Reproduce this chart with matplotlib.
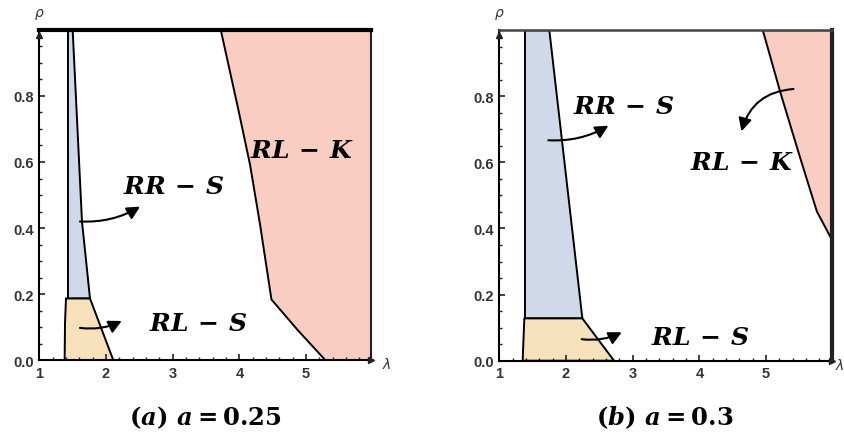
import matplotlib
matplotlib.use("Agg")
import matplotlib.pyplot as plt
from matplotlib.ticker import MultipleLocator, FixedLocator

plt.rcParams['mathtext.fontset'] = 'custom'
plt.rcParams['mathtext.it'] = 'DejaVu Serif:italic:bold'
plt.rcParams['mathtext.rm'] = 'DejaVu Serif:bold'
plt.rcParams['mathtext.bf'] = 'DejaVu Serif:bold'

# ---- data: panel (a) a = 0.25 ----
a_rrs_lam = [1.43, 1.43, 1.50, 1.64, 1.76]
a_rrs_rho = [0.187, 1.0, 1.0, 0.42, 0.187]
a_rls_lam = [1.38, 1.385, 1.40, 1.76, 2.11]
a_rls_rho = [0.0, 0.11, 0.187, 0.187, 0.0]
a_rlk_lam = [3.72, 3.98, 4.16, 4.31, 4.48, 4.88, 5.29, 5.98, 5.98]
a_rlk_rho = [1.0, 0.762, 0.591, 0.41, 0.184, 0.09, 0.0, 0.0, 1.0]

# ---- data: panel (b) a = 0.3 ----
b_rrs_lam = [1.385, 1.385, 1.75, 2.0, 2.245]
b_rrs_rho = [0.128, 1.0, 1.0, 0.56, 0.128]
b_rls_lam = [1.35, 1.375, 2.245, 2.72]
b_rls_rho = [0.0, 0.128, 0.128, 0.0]
b_rlk_lam = [4.95, 5.21, 5.51, 5.76, 5.97, 5.98, 5.98]
b_rlk_rho = [1.0, 0.814, 0.614, 0.452, 0.372, 0.372, 1.0]

x_ticks = [1, 2, 3, 4, 5]
y_ticks = [0.0, 0.2, 0.4, 0.6, 0.8]
y_tick_labels = ["0.0", "0.2", "0.4", "0.6", "0.8"]

captions = [r'$\mathrm{(}a\mathrm{)}\ a=0.25$', r'$\mathrm{(}b\mathrm{)}\ a=0.3$']

C_BLUE = '#cfd9ea'
C_TAN = '#f7e1bb'
C_RED = '#f9cdc2'

fig = plt.figure(figsize=(8.45, 4.35), dpi=100)
axA = fig.add_axes([39.3 / 845, 1 - 361.3 / 435, 332.2 / 845, 330.5 / 435])
axB = fig.add_axes([499.3 / 845, 1 - 361.7 / 435, 332.2 / 845, 330.5 / 435])


def style(ax, top_lw, right_lw, top_color, lam_x):
    ax.set_xlim(1, 5.98)
    ax.set_ylim(0, 1.0)
    ax.xaxis.set_major_locator(FixedLocator(x_ticks))
    ax.yaxis.set_major_locator(FixedLocator(y_ticks))
    ax.set_yticklabels(y_tick_labels)
    ax.xaxis.set_minor_locator(MultipleLocator(0.2))
    ax.yaxis.set_minor_locator(MultipleLocator(0.05))
    ax.tick_params(which='both', direction='in', top=False, right=False, color='#222222')
    ax.tick_params(which='major', length=4, width=1.2, pad=4)
    ax.tick_params(which='minor', length=2, width=1.0)
    for lab in ax.get_xticklabels() + ax.get_yticklabels():
        lab.set_fontfamily('Liberation Sans')
        lab.set_fontweight('bold')
        lab.set_fontsize(10.5)
        lab.set_color('#333333')
    ax.spines['left'].set_linewidth(1.5)
    ax.spines['bottom'].set_linewidth(1.5)
    ax.spines['top'].set_linewidth(top_lw)
    ax.spines['top'].set_color(top_color)
    ax.spines['right'].set_linewidth(right_lw)
    ax.spines['right'].set_color('#222222')
    ax.plot([5.98], [0], marker='>', ms=5, color='#222222', clip_on=False, zorder=5)
    ax.plot([1.0], [0.985], marker='^', ms=4, color='#222222', clip_on=False, zorder=5)
    ax.text(1.0, 1.055, 'ρ', ha='center', va='center', fontsize=10, style='italic',
            color='#333333', clip_on=False)
    ax.text(lam_x, -0.012, 'λ', ha='center', va='center', fontsize=10, style='italic',
            color='#333333', clip_on=False)


def arrow(ax, start, end, rad):
    ax.annotate('', xy=end, xytext=start,
                arrowprops=dict(arrowstyle='-|>,head_length=0.55,head_width=0.28',
                                connectionstyle='arc3,rad=%s' % rad,
                                color='black', lw=1.5, mutation_scale=14,
                                shrinkA=0, shrinkB=0))


LBL = dict(ha='center', va='center', fontsize=18, color='black')

# panel (a)
axA.fill(a_rrs_lam, a_rrs_rho, facecolor=C_BLUE, edgecolor='black', lw=1.4)
axA.fill(a_rls_lam, a_rls_rho, facecolor=C_TAN, edgecolor='black', lw=1.4)
axA.fill(a_rlk_lam, a_rlk_rho, facecolor=C_RED, edgecolor='black', lw=1.4)
style(axA, 3.0, 1.5, 'black', 6.21)
axA.text(3.01, 0.526, r'$RR\,-\,S$', **LBL)
axA.text(4.935, 0.636, r'$RL\,-\,K$', **LBL)
axA.text(3.385, 0.114, r'$RL\,-\,S$', **LBL)
arrow(axA, (1.61, 0.42), (2.51, 0.465), 0.15)
arrow(axA, (1.61, 0.098), (2.235, 0.119), 0.15)

# panel (b)
axB.fill(b_rrs_lam, b_rrs_rho, facecolor=C_BLUE, edgecolor='black', lw=1.4)
axB.fill(b_rls_lam, b_rls_rho, facecolor=C_TAN, edgecolor='black', lw=1.4)
axB.fill(b_rlk_lam, b_rlk_rho, facecolor=C_RED, edgecolor='black', lw=1.4)
style(axB, 1.8, 3.0, '#444444', 6.10)
axB.text(2.87, 0.77, r'$RR\,-\,S$', **LBL)
axB.text(4.635, 0.60, r'$RL\,-\,K$', **LBL)
axB.text(4.01, 0.073, r'$RL\,-\,S$', **LBL)
arrow(axB, (1.735, 0.667), (2.635, 0.711), 0.15)
arrow(axB, (2.235, 0.065), (2.835, 0.086), 0.15)
arrow(axB, (5.41, 0.822), (4.63, 0.694), 0.35)

fig.text(205 / 845, 1 - 418 / 435, captions[0], ha='center', va='center', fontsize=17.5)
fig.text(665 / 845, 1 - 418 / 435, captions[1], ha='center', va='center', fontsize=17.5)

fig.savefig('out.png', dpi=100)
